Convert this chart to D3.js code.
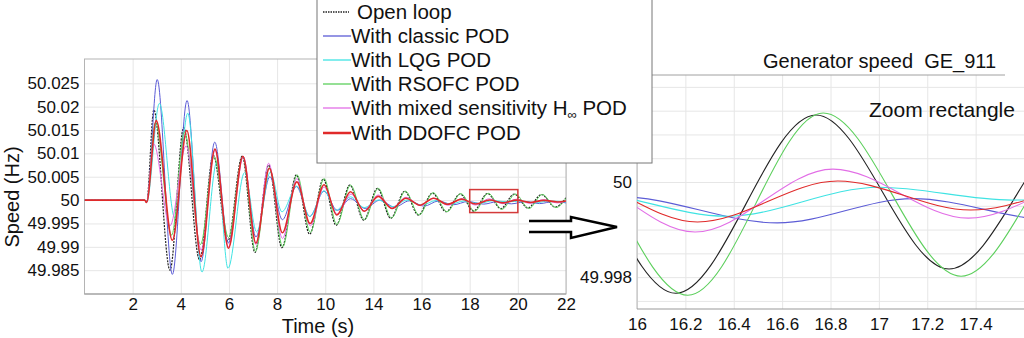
<!DOCTYPE html>
<html><head><meta charset="utf-8">
<script src="https://cdn.jsdelivr.net/npm/d3@7"></script>
<style>
body{margin:0;background:#fff;}
svg{display:block;}
svg text{font-family:"Liberation Sans",Arial,sans-serif;}
</style></head>
<body>
<svg id="c" width="1024" height="338"></svg>
<script>
// ---------- data ----------
const seriesNames = ["Open loop","With classic POD","With LQG POD","With RSOFC POD","With mixed sensitivity H","With DDOFC POD"];
const seriesColors = ["#222222","#5c5cd6","#3fe3e3","#5ccf5c","#e26ee6","#e02a2a"];

const xTickValues = [2,4,6,8,10,12,14,16,18,20];
const xTickLabels = ["2","4","6","8","10","14","16","18","20","22"];
const yTickValues = [49.985,49.99,49.995,50,50.005,50.01,50.015,50.02,50.025];
const yTickLabels = ["49.985","49.99","49.995","50","50.005","50.01","50.015","50.02","50.025"];

const zoomXTicks = [16,16.2,16.4,16.6,16.8,17,17.2,17.4,17.6];
const zoomXLabels = ["16","16.2","16.4","16.6","16.8","17","17.2","17.4","17.6"];
const zoomYGrid = [49.9975,49.998,49.9985,49.999,49.9995,50,50.0005,50.001,50.0015,50.002];
const zoomYLabeled = [50,49.998];
const zoomWindowT = [16,18];
const zoomWindowV = [49.99733,50.00225];

const openLoop = [[0,50],[2.5,50],[2.58,49.9995],[2.88,50.0193],[3.55,49.9850],[4.12,50.0155],[4.78,49.9872],[5.35,50.0096],[5.95,49.9912],[6.55,50.0094],[7.08,49.9888],[7.65,50.0075],[8.2,49.9898],[8.8,50.0054],[9.35,49.9927],[9.92,50.0045],[10.45,49.9946],[11.02,50.0032],[11.6,49.9957],[12.17,50.0025],[12.72,49.9961],[13.3,50.0019],[13.87,49.9968],[14.45,50.0015],[15.02,49.9975],[15.6,50.0013],[16.16,49.99766],[16.74,50.00141],[17.29,49.99817],[17.85,50.0013],[18.42,49.9983],[18.98,50.0012],[19.55,49.9985],[20,50.0005]];
const classicPOD = [[0,50],[2.5,50],[2.58,49.9995],[3.02,50.0258],[3.65,49.9841],[4.26,50.0213],[4.84,49.9868],[5.41,50.0124],[5.98,49.9908],[6.58,50.0093],[7.12,49.9921],[7.7,50.0050],[8.22,49.9958],[8.8,50.0029],[9.35,49.9965],[9.95,50.0019],[10.5,49.9978],[11.05,50.0003],[11.66,49.9982],[12.27,50.0],[12.88,49.9985],[13.5,49.99985],[14.1,49.9987],[14.7,49.9998],[15.32,49.999],[15.93,49.99969],[16.58,49.99914],[17.14,49.99965],[17.73,49.9992],[18.33,49.9997],[18.9,49.99925],[19.5,49.9997],[20,49.9994]];
const lqgPOD = [[0,50],[2.5,50],[2.58,49.9995],[3.11,50.0207],[3.75,49.9962],[4.29,50.0186],[4.88,49.9846],[5.5,50.0082],[5.96,49.9854],[6.65,50.0059],[7.15,49.9932],[7.72,50.0060],[8.2,49.9975],[8.82,50.0030],[9.36,49.9965],[9.95,50.0020],[10.45,49.9978],[11.05,50.0007],[11.62,49.9984],[12.2,50.0],[12.8,49.9986],[13.4,50.0],[14.0,49.9989],[14.6,49.9999],[15.2,49.9991],[15.75,49.9998],[16.37,49.99928],[17.0,49.99989],[17.55,49.99962],[18.15,49.9998],[18.7,49.9994],[19.3,49.9998],[20,49.9996]];
const rsofcPOD = [[0,50],[2.5,50],[2.58,49.9995],[2.94,50.0166],[3.62,49.9925],[4.15,50.0146],[4.82,49.9905],[5.38,50.0093],[5.98,49.9920],[6.58,50.0094],[7.1,49.9890],[7.68,50.0070],[8.23,49.9900],[8.83,50.0054],[9.38,49.9931],[9.95,50.0046],[10.48,49.9948],[11.05,50.0032],[11.63,49.9958],[12.2,50.0025],[12.75,49.9962],[13.33,50.0019],[13.9,49.9968],[14.48,50.0016],[15.06,49.9975],[15.63,50.0014],[16.21,49.99762],[16.77,50.00145],[17.34,49.99802],[17.9,50.0013],[18.46,49.9982],[19.02,50.0012],[19.58,49.9984],[20,50.0004]];
const mixedPOD = [[0,50],[2.5,50],[2.58,49.9995],[2.87,50.0121],[3.55,49.9945],[4.22,50.0116],[4.85,49.9893],[5.42,50.0107],[5.98,49.9900],[6.6,50.0093],[7.12,49.9905],[7.65,50.0079],[8.22,49.9918],[8.82,50.0046],[9.38,49.9945],[9.95,50.0028],[10.5,49.9970],[11.07,50.0013],[11.62,49.9977],[12.2,50.0011],[12.78,49.9983],[13.35,50.0006],[13.95,49.9988],[14.5,50.0004],[15.1,49.9989],[15.67,50.0003],[16.24,49.99895],[16.81,50.00027],[17.37,49.99924],[17.95,50.0002],[18.5,49.9993],[19.07,50.0001],[19.63,49.9994],[20,49.9998]];
const ddofcPOD = [[0,50],[2.5,50],[2.58,49.9995],[2.98,50.0170],[3.65,49.9914],[4.25,50.0149],[4.84,49.9879],[5.42,50.0109],[5.98,49.9897],[6.58,50.0094],[7.12,49.9908],[7.68,50.0068],[8.22,49.9930],[8.82,50.0039],[9.37,49.9950],[9.95,50.0033],[10.48,49.9968],[11.05,50.0018],[11.62,49.9976],[12.2,50.0008],[12.78,49.9982],[13.35,50.0004],[13.93,49.9989],[14.5,50.0004],[15.08,49.9991],[15.67,50.0002],[16.25,49.99916],[16.83,50.00002],[17.38,49.99941],[17.95,50.0000],[18.52,49.9995],[19.08,49.99995],[19.65,49.9996],[20,49.9998]];

const allSeries = [openLoop, classicPOD, lqgPOD, rsofcPOD, mixedPOD, ddofcPOD];

// ---------- drawing ----------
const svg = d3.select("#c");
const FONT = 17;
const FF = "Liberation Sans, Arial, sans-serif";
const gridCol = "#e6e6e6", borderCol = "#b4b4b4";

// Left panel
const L = {x0:84.5, x1:566, y0:59, y1:294};
const xL = d3.scaleLinear([0,20],[L.x0,L.x1]);
const yL = d3.scaleLinear([49.9799,50.0302],[L.y1,L.y0]);

const defs = svg.append("defs");
defs.append("clipPath").attr("id","clipL").append("rect")
  .attr("x",L.x0).attr("y",L.y0).attr("width",L.x1-L.x0).attr("height",L.y1-L.y0);

const gL = svg.append("g");
gL.append("g").attr("transform",`translate(0,${L.y1})`)
  .call(d3.axisBottom(xL).tickValues(xTickValues).tickSize(-(L.y1-L.y0)).tickFormat(""))
  .call(g=>{g.select(".domain").remove(); g.selectAll("line").attr("stroke",gridCol);});
gL.append("g").attr("transform",`translate(${L.x0},0)`)
  .call(d3.axisLeft(yL).tickValues(yTickValues).tickSize(-(L.x1-L.x0)).tickFormat(""))
  .call(g=>{g.select(".domain").remove(); g.selectAll("line").attr("stroke",gridCol);});
gL.append("rect").attr("x",L.x0).attr("y",L.y0).attr("width",L.x1-L.x0).attr("height",L.y1-L.y0)
  .attr("fill","none").attr("stroke",borderCol);
gL.append("line").attr("x1",L.x0).attr("x2",L.x1).attr("y1",L.y1).attr("y2",L.y1).attr("stroke","#999");
gL.append("g").attr("transform",`translate(0,${L.y1})`)
  .call(d3.axisBottom(xL).tickValues(xTickValues).tickSize(0).tickPadding(4)
    .tickFormat((d,i)=>xTickLabels[i]))
  .call(g=>{g.select(".domain").remove(); g.attr("font-family",FF); g.selectAll("text").attr("font-size",FONT).attr("fill","#111");});
gL.append("g").attr("transform",`translate(${L.x0},0)`)
  .call(d3.axisLeft(yL).tickValues(yTickValues).tickSize(0).tickPadding(5)
    .tickFormat((d,i)=>yTickLabels[i]))
  .call(g=>{g.select(".domain").remove(); g.attr("font-family",FF); g.selectAll("text").attr("font-size",FONT).attr("fill","#111");});

const lineL = d3.line().x(d=>xL(d[0])).y(d=>yL(d[1])).curve(d3.curveMonotoneX);
const plotL = gL.append("g").attr("clip-path","url(#clipL)");
allSeries.forEach((s,i)=>{
  plotL.append("path").attr("d",lineL(s)).attr("fill","none")
    .attr("stroke",seriesColors[i])
    .attr("stroke-width", i===5?1.6:(i===0?1.2:1))
    .attr("stroke-dasharray", i===0?"2,1.2":null);
});
gL.append("rect")
  .attr("x",xL(zoomWindowT[0])).attr("y",yL(zoomWindowV[1]))
  .attr("width",xL(zoomWindowT[1])-xL(zoomWindowT[0]))
  .attr("height",yL(zoomWindowV[0])-yL(zoomWindowV[1]))
  .attr("fill","none").attr("stroke","#d43a3a").attr("stroke-width",1.5);

gL.append("text").attr("x",318).attr("y",333).attr("text-anchor","middle")
  .attr("font-family",FF).attr("font-size",20).attr("fill","#111").text("Time (s)");
gL.append("text").attr("transform","translate(19,197) rotate(-90)").attr("text-anchor","middle")
  .attr("font-family",FF).attr("font-size",20).attr("fill","#111").text("Speed (Hz)");

// Right panel
const R = {x0:637, x1:1024, y0:75, y1:309};
const xR = d3.scaleLinear([16,17.6],[R.x0,R.x1]);
const yR = d3.scaleLinear(zoomWindowV,[R.y1,R.y0]);
defs.append("clipPath").attr("id","clipR").append("rect")
  .attr("x",R.x0).attr("y",R.y0).attr("width",R.x1-R.x0).attr("height",R.y1-R.y0);
const gR = svg.append("g");
gR.append("g").attr("transform",`translate(0,${R.y1})`)
  .call(d3.axisBottom(xR).tickValues(zoomXTicks).tickSize(-(R.y1-R.y0)).tickFormat(""))
  .call(g=>{g.select(".domain").remove(); g.selectAll("line").attr("stroke",gridCol);});
gR.append("g").attr("transform",`translate(${R.x0},0)`)
  .call(d3.axisLeft(yR).tickValues(zoomYGrid).tickSize(-(R.x1-R.x0)).tickFormat(""))
  .call(g=>{g.select(".domain").remove(); g.selectAll("line").attr("stroke",gridCol);});
gR.append("line").attr("x1",R.x0).attr("x2",R.x0).attr("y1",R.y0).attr("y2",R.y1).attr("stroke",borderCol);
gR.append("line").attr("x1",R.x0).attr("x2",R.x1).attr("y1",R.y1).attr("y2",R.y1).attr("stroke","#999");
gR.append("line").attr("x1",R.x0).attr("x2",1005).attr("y1",R.y0).attr("y2",R.y0).attr("stroke","#a0a0a0");
gR.append("g").attr("transform",`translate(0,${R.y1})`)
  .call(d3.axisBottom(xR).tickValues(zoomXTicks.slice(0,8)).tickSize(0).tickPadding(9)
    .tickFormat((d,i)=>zoomXLabels[i]))
  .call(g=>{g.select(".domain").remove(); g.attr("font-family",FF); g.selectAll("text").attr("font-size",FONT).attr("fill","#111");});
gR.append("g").attr("transform",`translate(${R.x0},0)`)
  .call(d3.axisLeft(yR).tickValues(zoomYLabeled).tickSize(0).tickPadding(5).tickFormat(d3.format("")))
  .call(g=>{g.select(".domain").remove(); g.attr("font-family",FF); g.selectAll("text").attr("font-size",FONT).attr("fill","#111");});

const lineR = d3.line().x(d=>xR(d[0])).y(d=>yR(d[1])).curve(d3.curveMonotoneX);
const plotR = gR.append("g").attr("clip-path","url(#clipR)");
allSeries.forEach((s,i)=>{
  plotR.append("path").attr("d",lineR(s)).attr("fill","none")
    .attr("stroke",seriesColors[i]).attr("stroke-width",1.1);
});
gR.append("text").attr("x",763).attr("y",68).attr("font-family",FF).attr("font-size",20).attr("fill","#111")
  .attr("xml:space","preserve").text("Generator speed  GE_911");
gR.append("text").attr("x",869).attr("y",117).attr("font-family",FF).attr("font-size",21).attr("fill","#111").text("Zoom rectangle");

// Arrow
svg.append("path")
  .attr("d","M529,221 L571,221 L571,217 L617,227 L571,238 L571,232 L529,232")
  .attr("fill","#fff").attr("stroke","#000").attr("stroke-width",2.5).attr("stroke-linejoin","miter");

// Legend
const lg = svg.append("g").attr("font-family",FF);
lg.append("rect").attr("x",317).attr("y",-1).attr("width",335).attr("height",164)
  .attr("fill","#fff").attr("stroke","#777");
const rowY = [12,36,60,84,108,133];
seriesNames.forEach((n,i)=>{
  lg.append("line").attr("x1",323).attr("x2",i===0?349:351).attr("y1",rowY[i]).attr("y2",rowY[i])
    .attr("stroke",seriesColors[i]).attr("stroke-width",i===5?2.5:(i===0?1.5:1.3))
    .attr("stroke-dasharray",i===0?"1.5,1":null);
  const t = lg.append("text").attr("x",i===0?357:351).attr("y",rowY[i]+7)
    .attr("font-size",20.5).attr("fill","#111").text(n);
  if(i===4){
    t.append("tspan").attr("font-size",13).attr("dy",4).text("\u221E");
    t.append("tspan").attr("dy",-4).text(" POD");
  }
});
</script>
</body></html>
